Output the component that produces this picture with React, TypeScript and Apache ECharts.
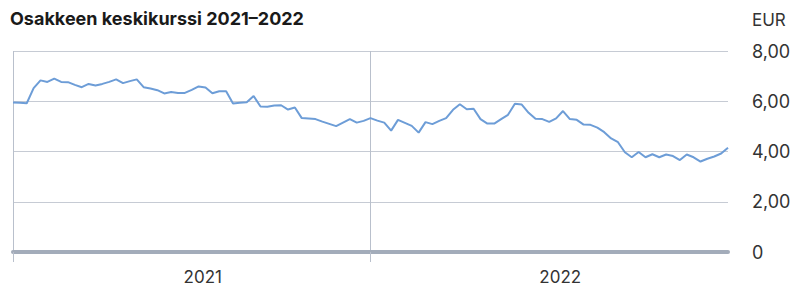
import React, { useEffect, useRef } from "react";
import * as echarts from "echarts";

const TITLE = "Osakkeen keskikurssi 2021–2022";
const UNIT = "EUR";
const YEARS = ["2021", "2022"];
const WEEKS: string[] = Array.from({ length: 105 }, (_, i) =>
  i < 53 ? `2021 vk ${i + 1}` : `2022 vk ${i - 52}`
);
const PRICES = [
  5.95, 5.94, 5.92, 6.52, 6.83, 6.77, 6.9, 6.77, 6.76, 6.65, 6.56, 6.69, 6.63, 6.69, 6.77,
  6.87, 6.72, 6.8, 6.87, 6.56, 6.51, 6.44, 6.31, 6.37, 6.33, 6.33, 6.45, 6.59, 6.55, 6.32,
  6.4, 6.4, 5.91, 5.94, 5.96, 6.21, 5.79, 5.78, 5.83, 5.84, 5.67, 5.75, 5.33, 5.31, 5.29,
  5.19, 5.1, 5.01, 5.15, 5.29, 5.15, 5.22, 5.33, 5.23, 5.15, 4.83, 5.26, 5.14, 5.02, 4.75,
  5.17, 5.09, 5.22, 5.33, 5.66, 5.88, 5.68, 5.7, 5.29, 5.11, 5.11, 5.29, 5.46, 5.9, 5.87,
  5.54, 5.3, 5.29, 5.18, 5.32, 5.61, 5.29, 5.26, 5.07, 5.06, 4.95, 4.77, 4.52, 4.37, 3.97,
  3.77, 3.98, 3.77, 3.89, 3.77, 3.88, 3.82, 3.66, 3.88, 3.77, 3.6, 3.71, 3.8, 3.92, 4.15,
];
const Y_TICKS = [0, 2, 4, 6, 8];
const YEAR_START_INDEX = [0, 52];

const FONT = "Inter, 'Noto Sans', sans-serif";

export default function App() {
  const ref = useRef<HTMLDivElement>(null);
  useEffect(() => {
    if (!ref.current) return;
    const chart = echarts.init(ref.current, undefined, { renderer: "svg" });
    chart.setOption({
      animation: false,
      title: [
        {
          text: TITLE,
          left: 10,
          top: 9,
          padding: 0,
          textStyle: { fontFamily: FONT, fontSize: 18, fontWeight: 700, color: "#1a1a1a" },
        },
        {
          text: UNIT,
          left: 752,
          top: 11,
          padding: 0,
          textStyle: { fontFamily: FONT, fontSize: 17, fontWeight: 400, color: "#333" },
        },
      ],
      grid: { left: 13, right: 73, top: 51, bottom: 34, containLabel: false },
      xAxis: [
        {
          type: "category",
          data: WEEKS,
          boundaryGap: false,
          position: "bottom",
          axisLine: { show: true, lineStyle: { color: "#a3acba", width: 4 } },
          axisTick: {
            show: true,
            length: 10,
            interval: (i: number) => YEAR_START_INDEX.includes(i),
            lineStyle: { color: "#b9c0cc", width: 1 },
          },
          splitLine: {
            show: true,
            interval: (i: number) => YEAR_START_INDEX.includes(i),
            lineStyle: { color: "#b9c0cc", width: 1 },
          },
          axisLabel: { show: false },
        },
        {
          type: "category",
          data: YEARS,
          boundaryGap: true,
          position: "bottom",
          axisLine: { show: false },
          axisTick: { show: false },
          splitLine: { show: false },
          axisLabel: {
            show: true,
            margin: 16,
            padding: [0, 0, 0, 22],
            fontFamily: FONT,
            fontSize: 17,
            color: "#333",
          },
        },
      ],
      yAxis: {
        type: "value",
        position: "right",
        min: Y_TICKS[0],
        max: Y_TICKS[Y_TICKS.length - 1],
        interval: 2,
        axisLine: { show: false },
        axisTick: { show: false },
        splitLine: { show: true, lineStyle: { color: "#c6cbd4", width: 1 } },
        axisLabel: {
          margin: 24,
          fontFamily: FONT,
          fontSize: 18,
          color: "#333",
          formatter: (v: number) => (v === 0 ? "0" : v.toFixed(2).replace(".", ",")),
        },
      },
      series: [
        {
          type: "line",
          data: PRICES,
          xAxisIndex: 0,
          showSymbol: false,
          symbol: "none",
          lineStyle: { color: "#6d9dd7", width: 2 },
          z: 3,
        },
      ],
    });
    return () => chart.dispose();
  }, []);
  return <div ref={ref} style={{ width: 801, height: 286, position: "absolute", left: 0, top: 0 }} />;
}
